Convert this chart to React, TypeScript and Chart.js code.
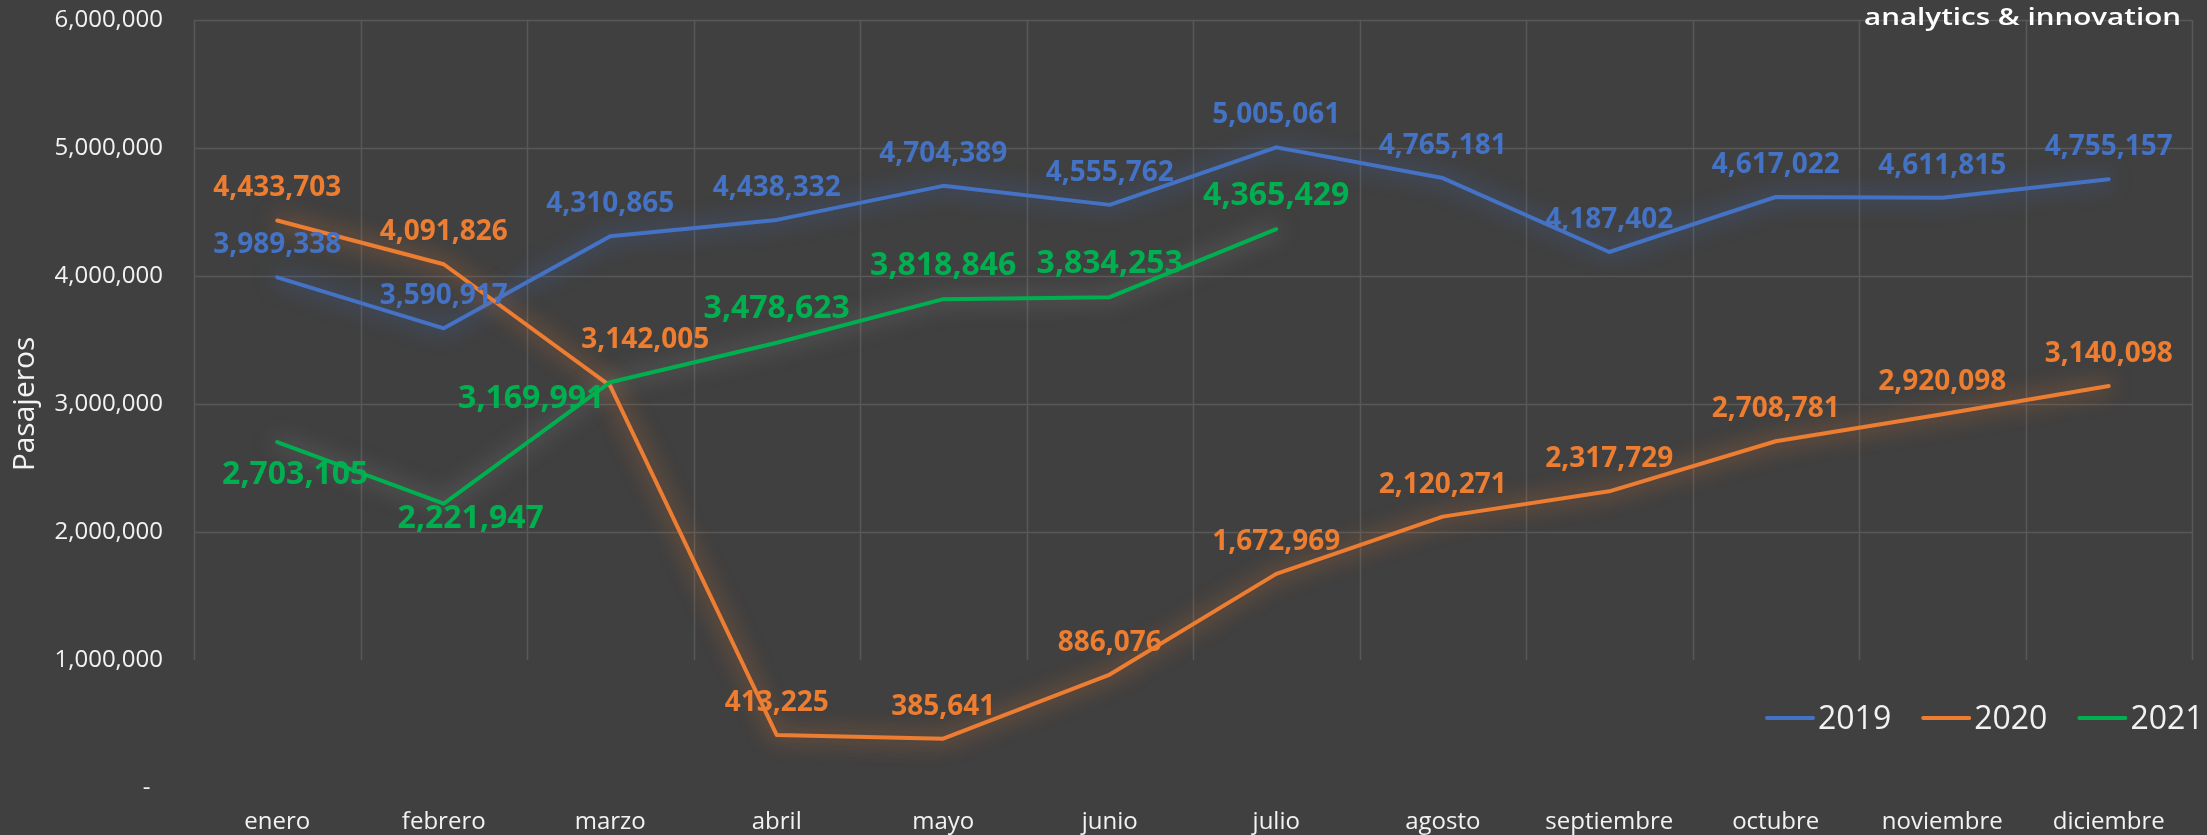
import { useEffect, useRef } from "react";
import { Chart, registerables } from "chart.js";

Chart.register(...registerables);

// ---------- data ----------
const months = ["enero", "febrero", "marzo", "abril", "mayo", "junio", "julio", "agosto", "septiembre", "octubre", "noviembre", "diciembre"];
const seriesNames = ["2019", "2020", "2021"];
const pax2019 = [3989338, 3590917, 4310865, 4438332, 4704389, 4555762, 5005061, 4765181, 4187402, 4617022, 4611815, 4755157];
const pax2020 = [4433703, 4091826, 3142005, 413225, 385641, 886076, 1672969, 2120271, 2317729, 2708781, 2920098, 3140098];
const pax2021 = [2703105, 2221947, 3169991, 3478623, 3818846, 3834253, 4365429, null, null, null, null, null];
const yTickValues = [0, 1000000, 2000000, 3000000, 4000000, 5000000, 6000000];
const yAxisTitle = "Pasajeros";
const brandText = "analytics & innovation";

// ---------- styles ----------
const BG = "#404040";
const GRID = "#585858";
const TEXT = "#F2F2F2";
const FONT = "'Open Sans', sans-serif";
const colors = ["#4472C4", "#ED7D31", "#00B050"];
const glowColors = ["rgba(68,114,196,0.85)", "rgba(237,125,49,0.85)", "rgba(200,200,200,0.5)"];
const labelSizes = [28, 28, 32];
const labelDefaultDy = [-34, -34, -36];
// manual label placements (dx, dy from the point) where the default "above" is not used
const labelNudges: Record<string, [number, number]> = {
  "1-2": [35, -48],
  "2-0": [18, 31],
  "2-1": [27, 13],
  "2-2": [-79, 14],
};

const fmt = (v: number) => v.toLocaleString("en-US");

const bgPlugin = {
  id: "bg",
  beforeDraw(chart: any) {
    const { ctx, width, height } = chart;
    ctx.save();
    ctx.fillStyle = BG;
    ctx.fillRect(0, 0, width, height);
    ctx.restore();
  },
};

const gridPlugin = {
  id: "customGrid",
  beforeDatasetsDraw(chart: any) {
    const { ctx, chartArea, scales } = chart;
    const x = scales.x;
    const y = scales.y;
    ctx.save();
    ctx.strokeStyle = GRID;
    ctx.lineWidth = 1.5;
    for (const v of yTickValues) {
      if (v < 2000000) continue;
      const py = Math.round(y.getPixelForValue(v)) + 0.5;
      ctx.beginPath();
      ctx.moveTo(chartArea.left, py);
      ctx.lineTo(chartArea.right, py);
      ctx.stroke();
    }
    const n = months.length;
    const half = (x.getPixelForValue(1) - x.getPixelForValue(0)) / 2;
    const yTop = y.getPixelForValue(yTickValues[yTickValues.length - 1]);
    const yBot = y.getPixelForValue(yTickValues[1]);
    for (let i = 0; i <= n; i++) {
      const px = Math.round(i < n ? x.getPixelForValue(i) - half : x.getPixelForValue(n - 1) + half) + 0.5;
      ctx.beginPath();
      ctx.moveTo(px, yTop);
      ctx.lineTo(px, yBot);
      ctx.stroke();
    }
    ctx.restore();
  },
};

const glowPlugin = {
  id: "glow",
  beforeDatasetDraw(chart: any, args: any) {
    const ctx = chart.ctx;
    ctx.save();
    ctx.shadowColor = glowColors[args.index];
    ctx.shadowBlur = 22;
  },
  afterDatasetDraw(chart: any) {
    chart.ctx.restore();
  },
};

const labelPlugin = {
  id: "valueLabels",
  afterDatasetsDraw(chart: any) {
    const { ctx } = chart;
    ctx.save();
    ctx.textAlign = "center";
    ctx.textBaseline = "alphabetic";
    chart.data.datasets.forEach((ds: any, di: number) => {
      const meta = chart.getDatasetMeta(di);
      const size = labelSizes[di];
      ctx.font = `bold ${size}px ${FONT}`;
      ctx.fillStyle = colors[di];
      meta.data.forEach((el: any, i: number) => {
        const v = ds.data[i];
        if (v === null || v === undefined) return;
        const nudge = labelNudges[`${di}-${i}`] || [0, labelDefaultDy[di]];
        const cx = el.x + nudge[0];
        const cy = el.y + nudge[1];
        ctx.fillText(fmt(v), cx, cy + size * 0.357);
      });
    });
    ctx.restore();
  },
};

const legendPlugin = {
  id: "customLegend",
  afterDraw(chart: any) {
    const { ctx, chartArea } = chart;
    const size = 32;
    ctx.save();
    ctx.font = `${size}px ${FONT}`;
    ctx.textBaseline = "alphabetic";
    ctx.textAlign = "left";
    const yMid = chart.scales.y.getPixelForValue(yTickValues[1]) + 58;
    let x = chartArea.right - 425;
    chart.data.datasets.forEach((ds: any, di: number) => {
      ctx.strokeStyle = colors[di];
      ctx.lineWidth = 4;
      ctx.lineCap = "round";
      ctx.beginPath();
      ctx.moveTo(x, yMid);
      ctx.lineTo(x + 46, yMid);
      ctx.stroke();
      ctx.fillStyle = TEXT;
      ctx.fillText(ds.label, x + 51, yMid + size * 0.357);
      x += 51 + ctx.measureText(ds.label).width + 32;
    });
    ctx.restore();
  },
};

const brandPlugin = {
  id: "brand",
  afterDraw(chart: any) {
    const { ctx } = chart;
    ctx.save();
    ctx.font = `600 23px ${FONT}`;
    ctx.fillStyle = "#FFFFFF";
    ctx.textBaseline = "alphabetic";
    const w = ctx.measureText(brandText).width;
    const targetW = 317;
    ctx.translate(1864, 25);
    ctx.scale(targetW / w, 1);
    ctx.fillText(brandText, 0, 0);
    ctx.restore();
  },
};

export default function App() {
  const ref = useRef<HTMLCanvasElement>(null);
  useEffect(() => {
    document.body.style.margin = "0";
    document.body.style.background = BG;
    const seriesData = [pax2019, pax2020, pax2021];
    const chart = new Chart(ref.current as HTMLCanvasElement, {
      type: "line",
      data: {
        labels: months,
        datasets: seriesData.map((d, i) => ({
          label: seriesNames[i],
          data: d,
          borderColor: colors[i],
          backgroundColor: colors[i],
          borderWidth: 4,
          pointRadius: 0,
          pointHoverRadius: 0,
          tension: 0,
          fill: false,
          borderJoinStyle: "round" as const,
          borderCapStyle: "round" as const,
          order: 3 - i,
        })),
      },
      options: {
        animation: false,
        responsive: false,
        maintainAspectRatio: false,
        layout: { padding: { left: 0, right: 15, top: 20, bottom: 0 } },
        plugins: {
          legend: { display: false },
          tooltip: { enabled: false },
        },
        scales: {
          x: {
            offset: true,
            grid: { display: false, drawTicks: false },
            border: { display: false },
            ticks: {
              color: TEXT,
              font: { family: FONT, size: 24 },
              padding: 20,
              maxRotation: 0,
              autoSkip: false,
            },
            afterFit: (s: any) => {
              s.height = 47;
              s.paddingLeft = 0;
              s.paddingRight = 0;
            },
          },
          y: {
            min: 0,
            max: 6000000,
            grid: { display: false, drawTicks: false },
            border: { display: false },
            afterBuildTicks: (s: any) => {
              s.ticks = yTickValues.map((v) => ({ value: v }));
            },
            ticks: {
              color: TEXT,
              font: { family: FONT, size: 24 },
              padding: 31,
              callback: (v: any) => (Number(v) === 0 ? "-  " : fmt(Number(v))),
            },
            title: {
              display: true,
              text: yAxisTitle,
              color: TEXT,
              font: { family: FONT, size: 30 },
              padding: { top: 7, bottom: 0 },
            },
            afterFit: (s: any) => {
              s.width = 194;
              s.paddingTop = 0;
              s.paddingBottom = 0;
            },
          },
        },
      },
      plugins: [bgPlugin, gridPlugin, glowPlugin, labelPlugin, legendPlugin, brandPlugin],
    });
    return () => chart.destroy();
  }, []);
  return <canvas ref={ref} width={2207} height={835} style={{ display: "block" }} />;
}
